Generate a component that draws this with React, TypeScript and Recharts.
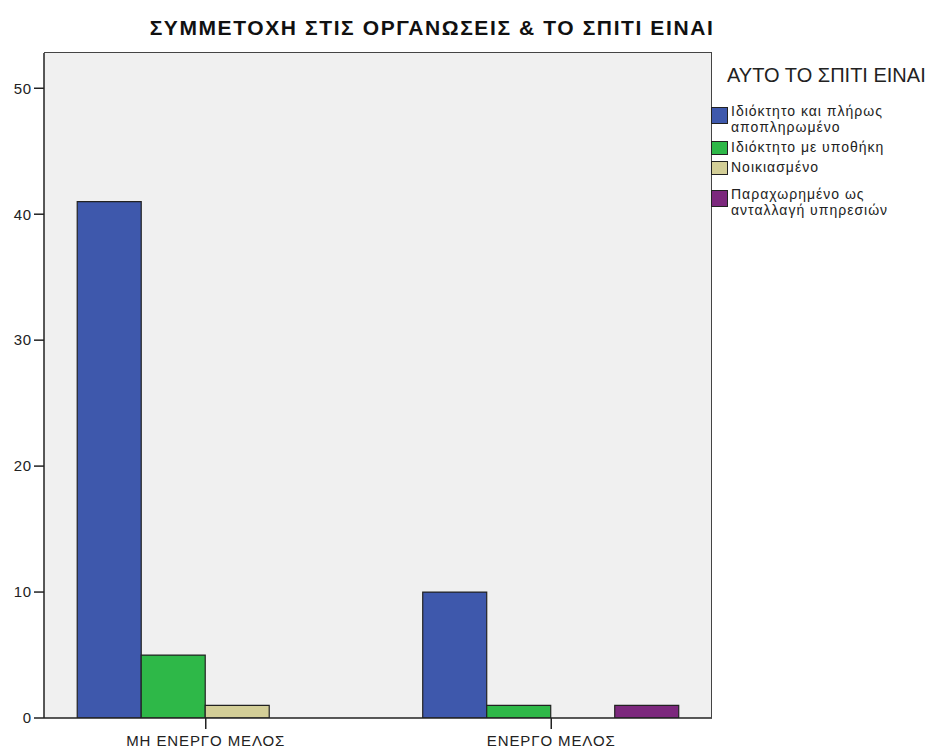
import React from 'react';
import { BarChart, Bar, XAxis, YAxis, CartesianGrid } from 'recharts';

// membership categories on the x axis
const categories = ['ΜΗ ΕΝΕΡΓΟ ΜΕΛΟΣ', 'ΕΝΕΡΓΟ ΜΕΛΟΣ'];

// counts per housing status
const ownedPaidOff = [41, 10];
const ownedMortgage = [5, 1];
const rented = [1, 0];
const exchangeForServices = [0, 1];

const seriesNames = [
  'Ιδιόκτητο και πλήρως αποπληρωμένο',
  'Ιδιόκτητο με υποθήκη',
  'Νοικιασμένο',
  'Παραχωρημένο ως ανταλλαγή υπηρεσιών',
];
// legend text split the way the original wraps it
const legendLines = [
  ['Ιδιόκτητο και πλήρως', 'αποπληρωμένο'],
  ['Ιδιόκτητο με υποθήκη'],
  ['Νοικιασμένο'],
  ['Παραχωρημένο ως', 'ανταλλαγή υπηρεσιών'],
];
const yTicks = [0, 10, 20, 30, 40, 50];

const seriesColors = ['#3e58ac', '#2eb848', '#d3ce97', '#7c287d'];
const seriesKeys = ['s0', 's1', 's2', 's3'];
const seriesValues = [ownedPaidOff, ownedMortgage, rented, exchangeForServices];

const chartData = categories.map((category, i) => {
  const row: Record<string, string | number> = { category };
  seriesKeys.forEach((k, j) => {
    row[k] = seriesValues[j][i];
  });
  return row;
});

const FONT = '"Liberation Sans", Arial, sans-serif';
const legendGaps = [0, 5, 4, 12];

// plot frame in page pixels
const PLOT = { left: 44, top: 53, right: 712, bottom: 718 };

const App: React.FC = () => {
  return (
    <div style={{ position: 'absolute', left: 0, top: 0, width: 936, height: 749, background: '#fff', fontFamily: FONT }}>
      <div
        style={{
          position: 'absolute',
          left: 0,
          width: 864,
          top: 15,
          textAlign: 'center',
          fontSize: 21,
          letterSpacing: 1.6,
          fontWeight: 'bold',
          color: '#111',
          lineHeight: '26px',
        }}
      >
        ΣΥΜΜΕΤΟΧΗ ΣΤΙΣ ΟΡΓΑΝΩΣΕΙΣ &amp; ΤΟ ΣΠΙΤΙ ΕΙΝΑΙ
      </div>

      <BarChart
        width={936}
        height={749}
        data={chartData}
        margin={{ top: PLOT.top, left: PLOT.left - 30, right: 936 - PLOT.right, bottom: 749 - PLOT.bottom - 30 }}
        barCategoryGap="12.8%"
        barGap={0}
      >
        <CartesianGrid fill="#f0f0f0" horizontal={false} vertical={false} />
        <XAxis
          dataKey="category"
          height={30}
          padding={{ left: -11, right: -12 }}
          axisLine={{ stroke: '#222', strokeWidth: 1.5 }}
          tickLine={{ stroke: '#222', strokeWidth: 1.5 }}
          tickSize={11}
          tickMargin={6}
          tick={{ fontSize: 15, fill: '#222', fontFamily: FONT, letterSpacing: 0.9 }}
        />
        <YAxis
          width={30}
          domain={[0, 52.8]}
          ticks={yTicks}
          allowDataOverflow
          axisLine={{ stroke: '#222', strokeWidth: 1.5 }}
          tickLine={{ stroke: '#222', strokeWidth: 1.5 }}
          tickSize={10}
          tickMargin={2}
          tick={{ fontSize: 15, fill: '#222', fontFamily: FONT, letterSpacing: 0.8 }}
        />
        {seriesKeys.map((k, j) => (
          <Bar
            key={k}
            dataKey={k}
            name={seriesNames[j]}
            fill={seriesColors[j]}
            stroke="#222"
            strokeWidth={1.2}
            isAnimationActive={false}
          />
        ))}
      </BarChart>

      {/* top and right edges of the plot frame */}
      <div
        style={{
          position: 'absolute',
          left: PLOT.left,
          top: PLOT.top - 1,
          width: PLOT.right - PLOT.left,
          height: PLOT.bottom - PLOT.top + 1,
          borderTop: '1.5px solid #444',
          borderRight: '1.5px solid #444',
          boxSizing: 'border-box',
          pointerEvents: 'none',
        }}
      />

      <div style={{ position: 'absolute', left: 727, top: 63, fontSize: 20, color: '#222', lineHeight: '24px', whiteSpace: 'nowrap' }}>
        ΑΥΤΟ ΤΟ ΣΠΙΤΙ ΕΙΝΑΙ
      </div>
      <div style={{ position: 'absolute', left: 711, top: 104 }}>
        {legendLines.map((lines, j) => (
          <div key={j} style={{ display: 'flex', alignItems: 'flex-start', marginTop: legendGaps[j] }}>
            <div
              style={{
                width: 15,
                height: lines.length > 1 ? 15 : 12,
                marginTop: lines.length > 1 ? 3 : 1,
                background: seriesColors[j],
                border: '1px solid #222',
                flexShrink: 0,
              }}
            />
            <div style={{ marginLeft: 3, fontSize: 14, letterSpacing: 1, lineHeight: '15.5px', color: '#222', whiteSpace: 'nowrap' }}>
              {lines.map((l) => (
                <div key={l}>{l}</div>
              ))}
            </div>
          </div>
        ))}
      </div>
    </div>
  );
};

export default App;
